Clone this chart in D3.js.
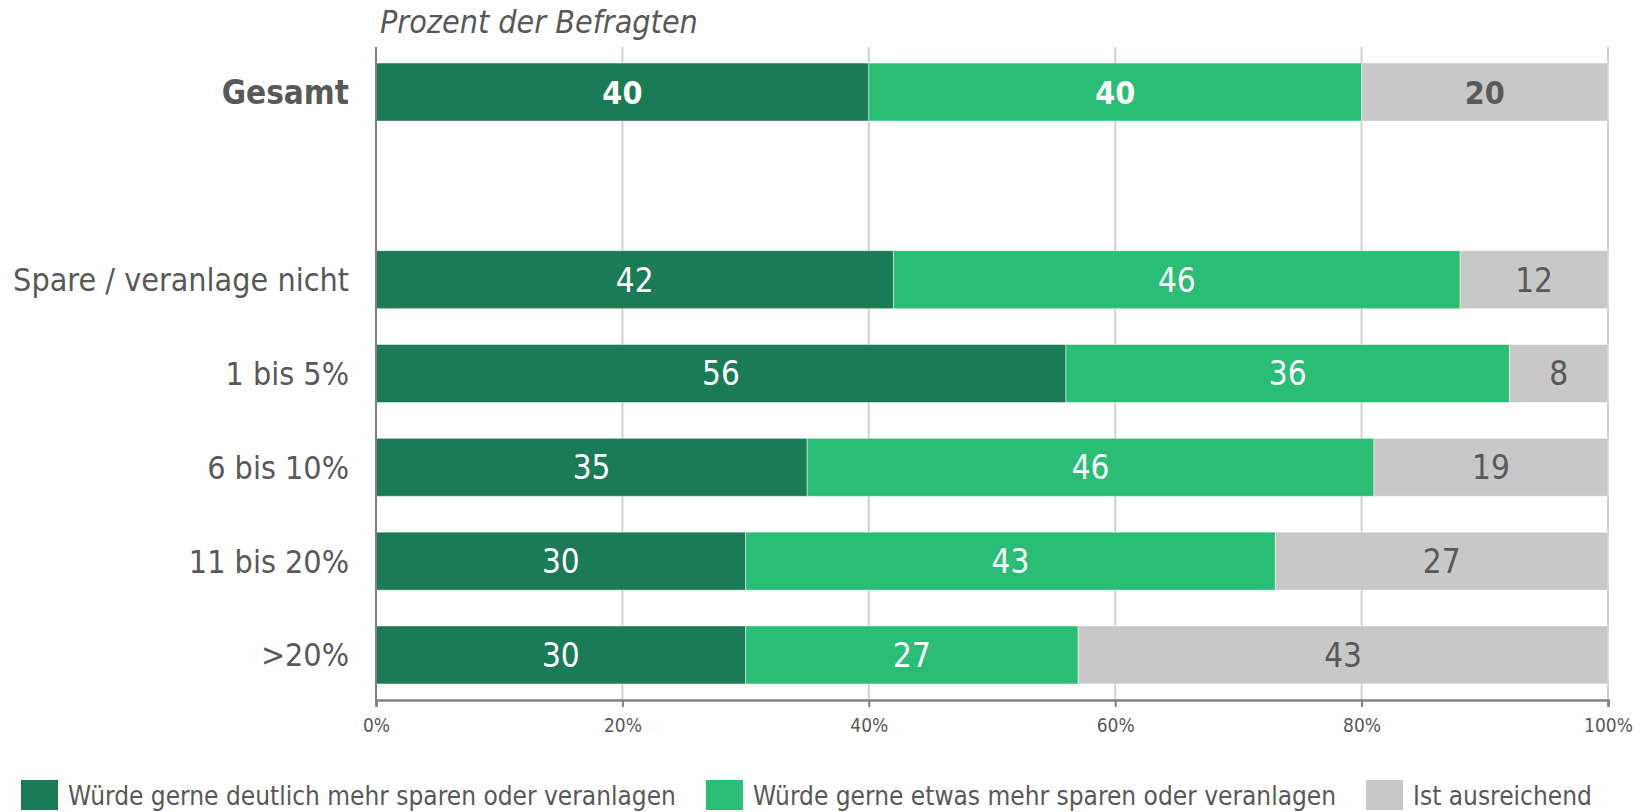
<!DOCTYPE html>
<html>
<head>
<meta charset="utf-8">
<script src="https://cdn.jsdelivr.net/npm/d3@7"></script>
<style>
  body { margin: 0; background: #fff; }
  text { font-family: "DejaVu Sans Condensed", "DejaVu Sans", sans-serif; font-stretch: condensed; }
</style>
</head>
<body>
<div id="chart"></div>
<script>
// categories (blank slot keeps the gap under "Gesamt")
var categories = ["Gesamt", "", "Spare / veranlage nicht", "1 bis 5%", "6 bis 10%", "11 bis 20%", ">20%"]
var seriesNames = ["Würde gerne deutlich mehr sparen oder veranlagen", "Würde gerne etwas mehr sparen oder veranlagen", "Ist ausreichend"]
var deutlich = [40, null, 42, 56, 35, 30, 30]
var etwas    = [40, null, 46, 36, 46, 43, 27]
var reicht   = [20, null, 12, 8, 19, 27, 43]
var xTicks = [0, 20, 40, 60, 80, 100]
var colors = ["#1b7b57", "#2abd76", "#c8c8c8"]
var labelColors = ["#ffffff", "#ffffff", "#595959"]

var width = 1634, height = 812

var rows = categories.map((c, i) => ({
  cat: c,
  s0: deutlich[i],
  s1: etwas[i],
  s2: reicht[i]
})).filter(d => d.cat != "")

var stack = d3.stack().keys(["s0", "s1", "s2"])
var layers = stack(rows)

var x = d3.scaleLinear().domain([0, 100]).range([376, 1608])
var y = d3.scaleBand().domain(categories).range([47, 700])
  .paddingInner(0.382).paddingOuter(0.171)

var svg = d3.select("#chart").append("svg")
  .attr("width", width)
  .attr("height", height)

// grid lines
svg.selectAll(".grid")
  .data(xTicks.slice(1))
  .enter()
  .append("line")
  .attr("x1", d => x(d))
  .attr("x2", d => x(d))
  .attr("y1", 47)
  .attr("y2", 700)
  .attr("stroke", "#d0d0d0")
  .attr("stroke-width", 2)

// bars
layers.forEach((layer, k) => {
  svg.selectAll(".bar" + k)
    .data(layer)
    .enter()
    .append("rect")
    .attr("x", d => x(d[0]))
    .attr("y", d => y(d.data.cat))
    .attr("width", d => x(d[1]) - x(d[0]))
    .attr("height", y.bandwidth())
    .attr("fill", colors[k])
    .attr("stroke", "rgba(255,255,255,0.45)")
    .attr("stroke-width", 1)

  svg.selectAll(".lab" + k)
    .data(layer)
    .enter()
    .append("text")
    .text(d => d[1] - d[0])
    .attr("x", d => (x(d[0]) + x(d[1])) / 2)
    .attr("y", d => y(d.data.cat) + y.bandwidth() / 2)
    .attr("dy", "0.36em")
    .attr("text-anchor", "middle")
    .attr("font-size", d => d.data.cat == "Gesamt" ? 32 : 33)
    .attr("font-weight", d => d.data.cat == "Gesamt" ? "bold" : "normal")
    .attr("fill", labelColors[k])
})

// left axis line
svg.append("line")
  .attr("x1", x(0))
  .attr("x2", x(0))
  .attr("y1", 47)
  .attr("y2", 700)
  .attr("stroke", "#808080")
  .attr("stroke-width", 2)

// bottom axis
var xAxis = svg.append("g")
  .attr("transform", "translate(0,700)")
  .call(d3.axisBottom(x).tickValues(xTicks).tickFormat(d => d + "%").tickSize(7).tickPadding(12))

xAxis.select(".domain").attr("stroke", "#808080").attr("stroke-width", 2.5)
xAxis.selectAll(".tick line").attr("stroke", "#808080").attr("stroke-width", 2)
xAxis.selectAll(".tick text")
  .attr("font-size", 19)
  .attr("fill", "#595959")
  .style("font-family", '"DejaVu Sans Condensed", "DejaVu Sans", sans-serif')

// category labels
svg.selectAll(".cat")
  .data(rows)
  .enter()
  .append("text")
  .text(d => d.cat)
  .attr("x", 349)
  .attr("y", d => y(d.cat) + y.bandwidth() / 2)
  .attr("dy", "0.36em")
  .attr("text-anchor", "end")
  .attr("font-size", d => d.cat == "Gesamt" ? 33 : 32)
  .attr("font-weight", d => d.cat == "Gesamt" ? "bold" : "normal")
  .attr("fill", "#595959")

// subtitle
svg.append("text")
  .text("Prozent der Befragten")
  .attr("x", 380)
  .attr("y", 33)
  .attr("font-size", 32)
  .attr("font-style", "italic")
  .attr("fill", "#595959")

// legend
var lx = 21
seriesNames.forEach((name, k) => {
  svg.append("rect")
    .attr("x", lx)
    .attr("y", 780)
    .attr("width", 37)
    .attr("height", 30)
    .attr("fill", colors[k])
  var t = svg.append("text")
    .text(name)
    .attr("x", lx + 47)
    .attr("y", 805)
    .attr("font-size", 26)
    .attr("fill", "#595959")
  lx = lx + 47 + t.node().getComputedTextLength() + 30
})
</script>
</body>
</html>
